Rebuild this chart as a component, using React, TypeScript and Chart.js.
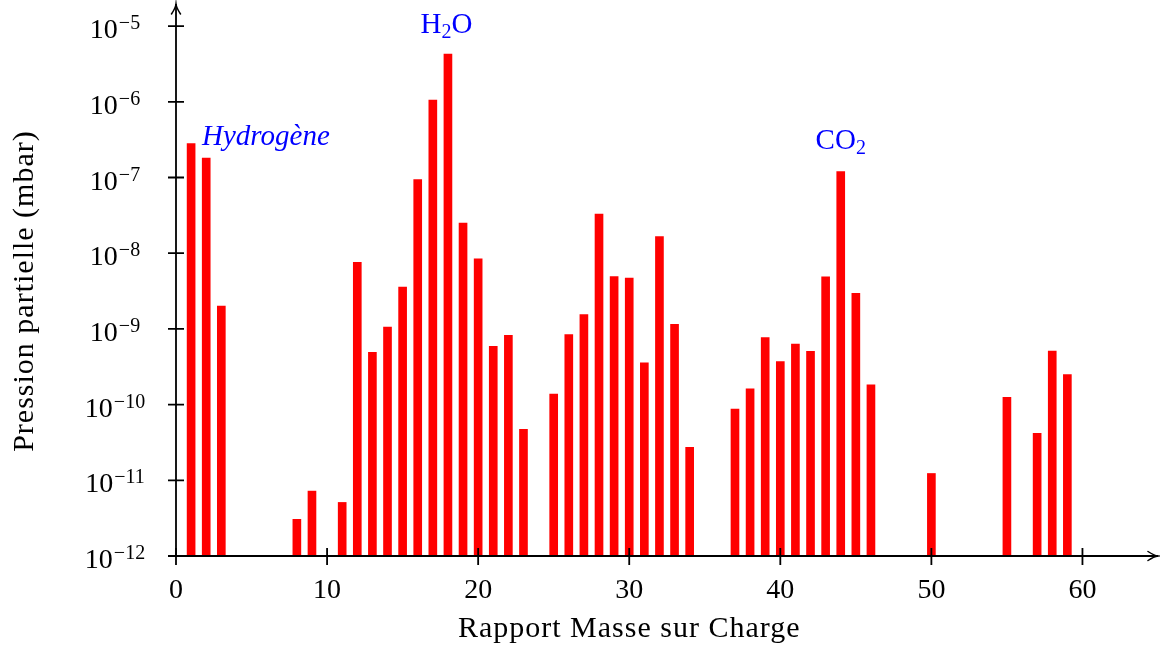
import React, { useEffect, useRef } from "react";
import { Chart, registerables } from "chart.js";

Chart.register(...registerables);

// m/z values and partial pressures (mbar)
const masses = [1, 2, 3, 8, 9, 11, 12, 13, 14, 15, 16, 17, 18, 19, 20, 21, 22, 23, 25, 26, 27, 28, 29, 30, 31, 32, 33, 34, 37, 38, 39, 40, 41, 42, 43, 44, 45, 46, 50, 55, 57, 58, 59];
const pressures = [
  2.8e-7, 1.8e-7, 2.0e-9, 3.05e-12, 7.2e-12, 5.1e-12, 7.6e-9, 4.9e-10, 1.06e-9, 3.56e-9,
  9.4e-8, 1.05e-6, 4.27e-6, 2.5e-8, 8.4e-9, 5.9e-10, 8.2e-10, 4.7e-11, 1.38e-10, 8.4e-10,
  1.55e-9, 3.28e-8, 4.92e-9, 4.68e-9, 3.55e-10, 1.66e-8, 1.15e-9, 2.73e-11, 8.7e-11, 1.61e-10,
  7.7e-10, 3.7e-10, 6.3e-10, 5.07e-10, 4.86e-9, 1.2e-7, 2.96e-9, 1.82e-10, 1.23e-11, 1.25e-10,
  4.18e-11, 5.1e-10, 2.5e-10,
];

const xTicks = [0, 10, 20, 30, 40, 50, 60];
const yTickExponents = [-12, -11, -10, -9, -8, -7, -6, -5];

const xTitle = "Rapport Masse sur Charge";
const yTitle = "Pression partielle (mbar)";

// annotations: text parts, anchor in data coordinates
const annHydrogen = { text: "Hydrogène", x: 1.72, y: 2.7e-7 };
const annWater = { main: "H", sub: "2", tail: "O", x: 17.9, y: 8.2e-6 };
const annCO2 = { main: "CO", sub: "2", tail: "", x: 44, y: 2.4e-7 };

const SERIF = '"Liberation Serif", "Times New Roman", serif';

const axesPlugin = {
  id: "customAxes",
  afterDraw(chart: any) {
    const ctx = chart.ctx as CanvasRenderingContext2D;
    const xs = chart.scales.x;
    const ys = chart.scales.y;
    const area = chart.chartArea;
    const x0 = xs.getPixelForValue(0);
    const yb = ys.getPixelForValue(1e-12);
    ctx.save();
    ctx.strokeStyle = "#000";
    ctx.fillStyle = "#000";
    ctx.lineWidth = 1.8;
    ctx.lineCap = "butt";

    // axes lines
    ctx.beginPath();
    ctx.moveTo(x0, yb);
    ctx.lineTo(x0, area.top - 1);
    ctx.moveTo(x0 - 1, yb);
    ctx.lineTo(area.right, yb);
    ctx.stroke();

    // arrow heads
    ctx.lineWidth = 1.5;
    ctx.lineCap = "round";
    ctx.beginPath();
    const ty = area.top - 1;
    ctx.moveTo(x0 - 4.5, ty + 10);
    ctx.quadraticCurveTo(x0 - 0.5, ty + 4, x0, ty);
    ctx.quadraticCurveTo(x0 + 0.5, ty + 4, x0 + 4.5, ty + 10);
    const tx = area.right;
    ctx.moveTo(tx - 10, yb - 4.5);
    ctx.quadraticCurveTo(tx - 4, yb - 0.5, tx, yb);
    ctx.quadraticCurveTo(tx - 4, yb + 0.5, tx - 10, yb + 4.5);
    ctx.stroke();
    ctx.lineCap = "butt";

    // ticks
    ctx.lineWidth = 1.8;
    ctx.beginPath();
    for (const e of yTickExponents) {
      const py = ys.getPixelForValue(Math.pow(10, e));
      ctx.moveTo(x0 - 8, py);
      ctx.lineTo(x0 + 8, py);
    }
    for (const v of xTicks) {
      const px = xs.getPixelForValue(v);
      ctx.moveTo(px, yb - 8);
      ctx.lineTo(px, yb + 9);
    }
    ctx.stroke();

    // x tick labels
    ctx.textBaseline = "alphabetic";
    ctx.textAlign = "center";
    ctx.font = `28px ${SERIF}`;
    for (const v of xTicks) {
      const px = xs.getPixelForValue(v);
      ctx.fillText(String(v), px, yb + 42);
    }

    // y tick labels: 10^e
    ctx.textAlign = "left";
    for (const e of yTickExponents) {
      const py = ys.getPixelForValue(Math.pow(10, e));
      ctx.font = `28px ${SERIF}`;
      const base = "10";
      const wb = ctx.measureText(base).width;
      ctx.font = `20px ${SERIF}`;
      const ex = "\u2212" + String(Math.abs(e));
      const we = ctx.measureText(ex).width;
      const total = wb + 1 + we;
      const left = 115 - total / 2;
      ctx.font = `28px ${SERIF}`;
      ctx.fillText(base, left, py + 12);
      ctx.font = `20px ${SERIF}`;
      ctx.fillText(ex, left + wb + 1, py + 3);
    }

    // axis titles
    ctx.font = `30px ${SERIF}`;
    (ctx as any).letterSpacing = "1px";
    ctx.textAlign = "center";
    ctx.fillText(xTitle, xs.getPixelForValue(30), 637);
    ctx.save();
    ctx.translate(33, ys.getPixelForValue(Math.pow(10, -8.5)));
    ctx.rotate(-Math.PI / 2);
    ctx.fillText(yTitle, 0, 0);
    ctx.restore();
    (ctx as any).letterSpacing = "0px";

    // annotations
    ctx.fillStyle = "#0000ff";
    ctx.textAlign = "left";
    ctx.font = `italic 29px ${SERIF}`;
    ctx.fillText(annHydrogen.text, xs.getPixelForValue(annHydrogen.x), ys.getPixelForValue(annHydrogen.y));

    const drawChem = (a: { main: string; sub: string; tail: string; x: number; y: number }) => {
      ctx.font = `29px ${SERIF}`;
      const wm = ctx.measureText(a.main).width;
      const wt = ctx.measureText(a.tail).width;
      ctx.font = `20px ${SERIF}`;
      const ws = ctx.measureText(a.sub).width;
      const total = wm + ws + wt;
      const cx = xs.getPixelForValue(a.x);
      const by = ys.getPixelForValue(a.y);
      let left = cx - total / 2;
      ctx.font = `29px ${SERIF}`;
      ctx.fillText(a.main, left, by);
      left += wm;
      ctx.font = `20px ${SERIF}`;
      ctx.fillText(a.sub, left, by + 5);
      left += ws;
      ctx.font = `29px ${SERIF}`;
      ctx.fillText(a.tail, left, by);
    };
    drawChem(annWater);
    drawChem(annCO2);

    ctx.restore();
  },
};

export default function App() {
  const canvasRef = useRef<HTMLCanvasElement | null>(null);

  useEffect(() => {
    if (!canvasRef.current) return;
    const data = masses.map((m, i) => ({ x: m, y: pressures[i] }));
    const chart = new Chart(canvasRef.current, {
      type: "bar",
      data: {
        datasets: [
          {
            data: data as any,
            backgroundColor: "#ff0000",
            borderWidth: 0,
            barThickness: 8,
          },
        ],
      },
      options: {
        responsive: false,
        animation: false,
        events: [],
        layout: { padding: { left: 176, right: 2, top: 5, bottom: 94 } },
        plugins: { legend: { display: false }, tooltip: { enabled: false } },
        scales: {
          x: { type: "linear", min: 0, max: 65, offset: false, display: false, grid: { offset: false } },
          y: { type: "logarithmic", min: 1e-12, max: 1.9e-5, display: false },
        },
      },
      plugins: [axesPlugin],
    });
    return () => chart.destroy();
  }, []);

  return (
    <div style={{ position: "absolute", left: 0, top: 0, width: 1160, height: 650, background: "#fff" }}>
      <canvas ref={canvasRef} width={1160} height={650} style={{ display: "block" }} />
    </div>
  );
}
